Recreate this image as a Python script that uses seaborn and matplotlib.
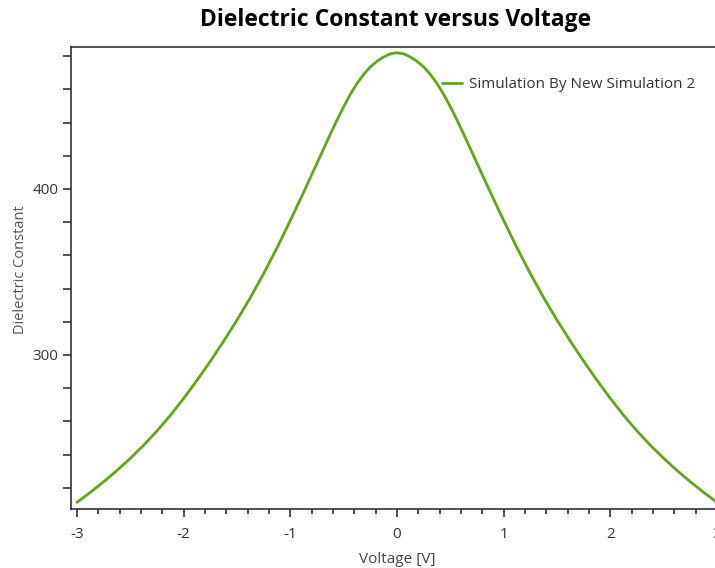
import matplotlib
matplotlib.use("Agg")
import matplotlib.pyplot as plt
import seaborn as sns
import pandas as pd
from matplotlib.ticker import MultipleLocator, FuncFormatter

# Data (symmetric about 0 V)
voltage_pos = [0.0, 0.0625, 0.125, 0.1875, 0.25, 0.3125, 0.375, 0.4375, 0.5, 0.5625,
               0.625, 0.75, 0.875, 1.0, 1.125, 1.25,
               1.375, 1.5, 1.625, 1.75, 1.875, 2.0, 2.125, 2.25, 2.375, 2.5,
               2.625, 2.75, 2.875, 3.0]
dielectric_pos = [482, 481.4, 479.5, 476.9, 473.5, 469.0, 463.5, 457.0, 449.5, 441.5,
                  433, 415.5, 398, 381, 364.5, 349,
                  334.5, 321, 308.3, 296.2, 284.7, 273.8, 263.6, 254.2, 245.6, 237.7,
                  230.4, 223.6, 217.2, 211.2]
series_name = "Simulation By New Simulation 2"

voltage = [-v for v in voltage_pos[:0:-1]] + voltage_pos
dielectric = dielectric_pos[:0:-1] + dielectric_pos
df = pd.DataFrame({"Voltage [V]": voltage, "Dielectric Constant": dielectric,
                   "series": series_name})

sns.set_theme(style="white")
plt.rcParams['font.family'] = ['Open Sans', 'DejaVu Sans']
plt.rcParams['axes.unicode_minus'] = False

fig = plt.figure(figsize=(7.15, 5.68), dpi=100)
ax = fig.add_axes([71/715, 1-509/568, (720-71)/715, (509-47)/568])

sns.lineplot(data=df, x="Voltage [V]", y="Dielectric Constant", hue="series",
             palette=["#62a51c"], linewidth=2.0, ax=ax, sort=True)
for ln in ax.lines:
    ln.set_solid_joinstyle('round')

ax.set_xlim(-3.056, 3.028)
ax.set_ylim(207.2, 485.5)

ax.xaxis.set_major_locator(MultipleLocator(1))
ax.xaxis.set_minor_locator(MultipleLocator(0.2))
ax.xaxis.set_major_formatter(FuncFormatter(lambda v, p: f"{int(round(v))}"))
ax.yaxis.set_major_locator(MultipleLocator(20))
ax.yaxis.set_major_formatter(FuncFormatter(lambda v, p: f"{int(round(v))}" if abs(v % 100) < 1e-6 else ""))

ax.tick_params(axis='both', which='major', direction='out', length=6, width=1.1,
               color='#222222', labelsize=11, labelcolor='#333333', bottom=True, left=True)
ax.tick_params(axis='x', which='minor', direction='out', length=3.5, width=1.1,
               color='#222222', bottom=True)
ax.tick_params(axis='x', which='major', pad=7)
ax.tick_params(axis='y', which='major', pad=3)

for s in ['left', 'bottom', 'top']:
    ax.spines[s].set_color('#222222')
    ax.spines[s].set_linewidth(1.1)
ax.spines['right'].set_visible(False)

ax.set_xlabel("Voltage [V]", fontsize=11, color='#444444')
ax.set_ylabel("Dielectric Constant", fontsize=10.5, color='#555555')
ax.xaxis.set_label_coords((397-71)/649, -(552-509)/462)
ax.yaxis.set_label_coords(-(71-28)/649, 1-(270-47)/462)
ax.set_title("Dielectric Constant versus Voltage", fontsize=16.5, fontweight='bold',
             color='black', pad=15)

leg = ax.legend(loc='upper left', bbox_to_anchor=((436-71)/(649), 1-24/462),
                frameon=False, fontsize=11, handlelength=1.3, handletextpad=0.45,
                borderaxespad=0)
for t in leg.get_texts():
    t.set_color('#333333')

fig.savefig("out.png", dpi=100)
